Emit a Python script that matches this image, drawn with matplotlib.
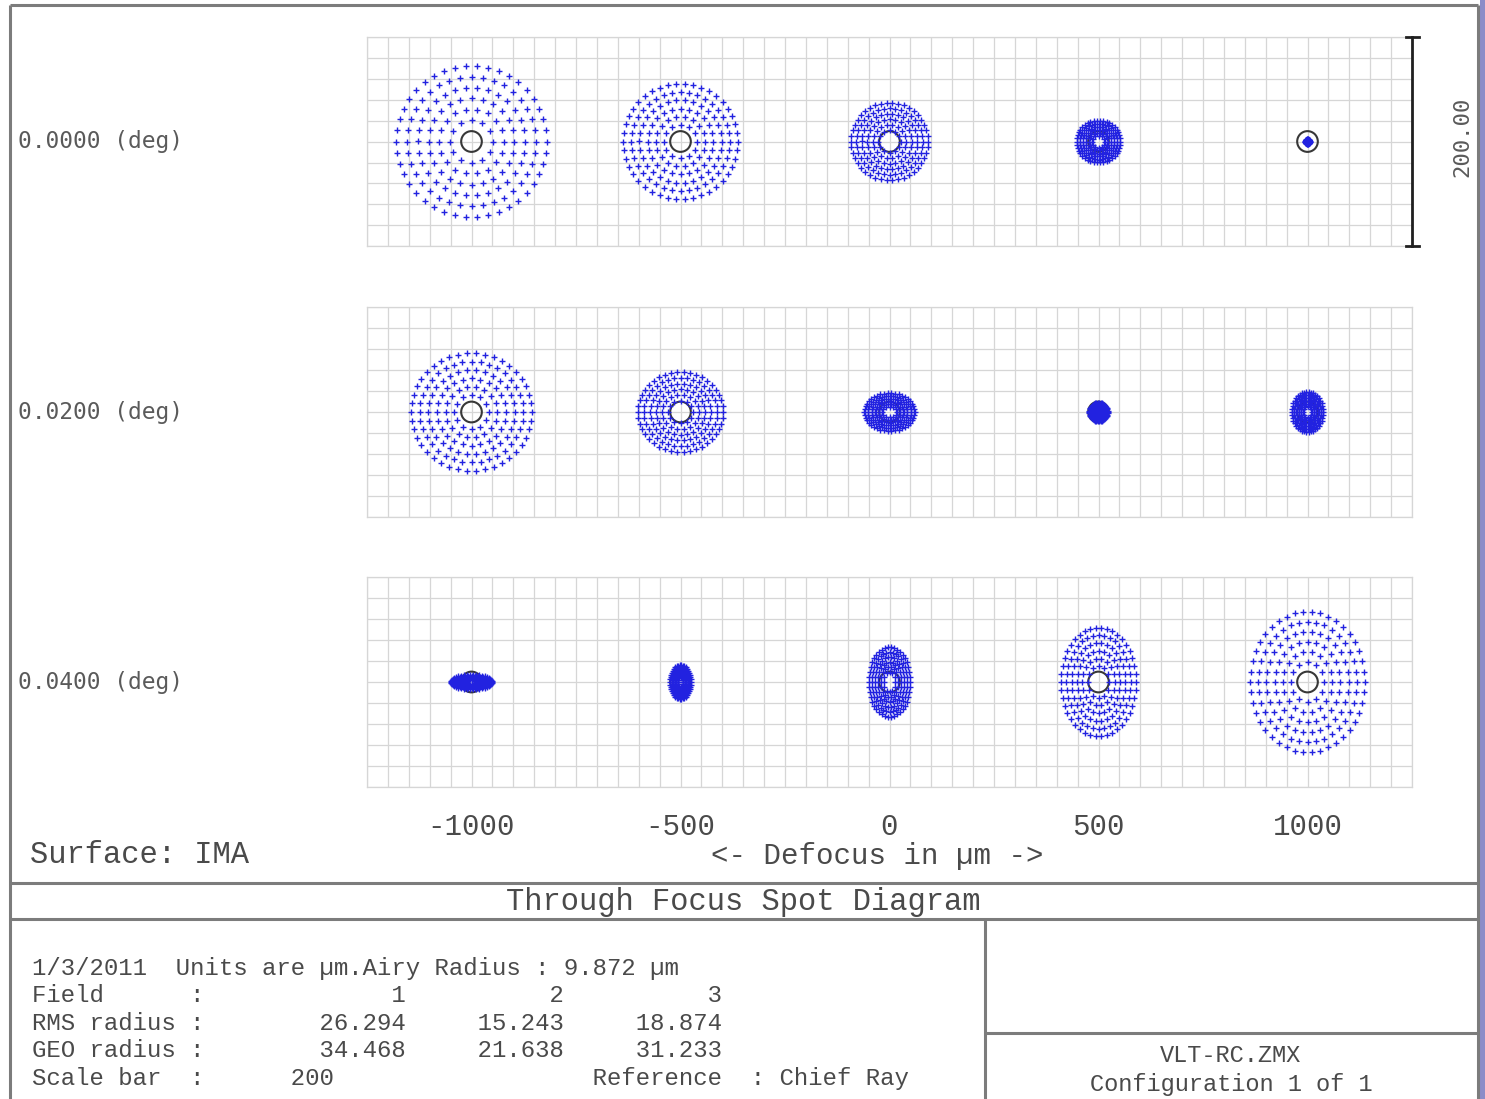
import numpy as np
import matplotlib
matplotlib.use("Agg")
import matplotlib.pyplot as plt
from matplotlib.patches import Ellipse, Rectangle
from matplotlib.ticker import MultipleLocator

W, H = 1485, 1099

# ---- data ----
FIELDS = ["0.0000 (deg)", "0.0200 (deg)", "0.0400 (deg)"]
DEFOCUS = [-1000, -500, 0, 500, 1000]
# spot half-width / half-height in um, one row per field, one column per defocus
SPOT_RX = [
    [72, 55, 37, 21, 2],
    [58, 41, 24, 9, 15],
    [20, 10, 20, 36, 55],
]
SPOT_RY = [
    [72, 55, 37, 20, 2],
    [56, 38, 18, 9, 19],
    [7, 16, 33, 52, 67],
]
AIRY_RADIUS = 9.872
SCALE_BAR = 200
FIELD_NO = ["1", "2", "3"]
RMS_RADIUS = ["26.294", "15.243", "18.874"]
GEO_RADIUS = ["34.468", "21.638", "31.233"]
DATE = "1/3/2011"
LENS_FILE = "VLT-RC.ZMX"

TXT = "#4a4a4a"
LINE = "#7c7c7c"
GRID = "#d6d6d6"
DOT = "#2222e0"
MONO = "Liberation Mono"


def hexapolar(rings=6, start=2):
    # ray pattern of the pupil (rings of 6*i rays, centre obscured)
    pts = []
    last = start + rings - 1
    for i in range(start, last + 1):
        r = i / last
        n = 6 * i
        a = 2 * np.pi * np.arange(n) / n
        pts.append(np.c_[r * np.cos(a), r * np.sin(a)])
    return np.vstack(pts)


fig = plt.figure(figsize=(W / 100, H / 100), dpi=100)
fig.patch.set_facecolor("white")

# background layer in pixel coordinates for the frame and free text
bg = fig.add_axes([0, 0, 1, 1], zorder=0)
bg.set_xlim(0, W)
bg.set_ylim(H, 0)
bg.axis("off")

pupil = hexapolar()
centres = [SCALE_BAR / 2 + SCALE_BAR * j for j in range(len(DEFOCUS))]
row_centres = [141.5, 412, 682]

axes = []
for i, field in enumerate(FIELDS):
    cy = row_centres[i]
    ax = fig.add_axes([367 / W, 1 - (cy + 105) / H, 1045 / W, 210 / H], zorder=2)
    ax.set_facecolor("none")
    ax.set_xlim(0, SCALE_BAR * len(DEFOCUS))
    ax.set_ylim(-SCALE_BAR / 2, SCALE_BAR / 2)
    ax.set_xticks(centres)
    ax.xaxis.set_minor_locator(MultipleLocator(20))
    ax.yaxis.set_major_locator(MultipleLocator(20))
    ax.grid(which="both", color=GRID, lw=0.9)
    ax.set_axisbelow(True)
    ax.tick_params(which="both", length=0)
    ax.set_yticklabels([])
    for s in ax.spines.values():
        s.set_color(GRID)
        s.set_linewidth(0.9)

    for j, cx in enumerate(centres):
        ax.add_patch(Ellipse((cx, 0), 2 * AIRY_RADIUS, 2 * AIRY_RADIUS,
                             fill=False, ec="#383838", lw=1.5, zorder=2))
        xs = cx + SPOT_RX[i][j] * pupil[:, 0]
        ys = SPOT_RY[i][j] * pupil[:, 1]
        ax.plot(xs, ys, "+", ms=4.5, mew=1, color=DOT, zorder=3)

    bg.text(18, cy, field, ha="left", va="center", fontsize=16.5,
            family="DejaVu Sans Mono", color="#5a5a5a")
    axes.append(ax)

# defocus labels on the bottom row
ax3 = axes[-1]
ax3.set_xticklabels([str(d) for d in DEFOCUS], family=MONO, fontsize=21, color=TXT)
ax3.tick_params(axis="x", pad=19)
for ax in axes[:-1]:
    ax.set_xticklabels([])
ax3.set_xlabel("<- Defocus in µm ->", family=MONO, fontsize=21, color=TXT)
ax3.xaxis.set_label_coords((877 - 367) / 1045, -0.26)

# scale bar on the first row
ax1 = axes[0]
xb = SCALE_BAR * len(DEFOCUS)
ax1.plot([xb, xb], [-SCALE_BAR / 2, SCALE_BAR / 2], color="#202020", lw=2,
         clip_on=False, zorder=4)
for yb in (-SCALE_BAR / 2, SCALE_BAR / 2):
    ax1.plot([xb - 6, xb + 7], [yb, yb], color="#202020", lw=2, clip_on=False, zorder=4)
bg.text(1462, 137, f"{SCALE_BAR:.2f}", rotation=90, ha="center", va="center",
        fontsize=16, family="DejaVu Sans Mono", color="#5a5a5a")

# frame
frame_lines = [
    ((10, 1478), (5, 5)),
    ((10, 10), (5, H)),
    ((1478, 1478), (5, H)),
    ((10, 1478), (883, 883)),
    ((10, 1478), (919, 919)),
    ((985, 985), (919, H)),
    ((985, 1478), (1033, 1033)),
]
for xs, ys in frame_lines:
    bg.plot(xs, ys, color=LINE, lw=2.2, solid_capstyle="butt")
bg.add_patch(Rectangle((1480, 0), 5, H, color="#8c8cc8", lw=0))

bg.text(30, 855, "Surface: IMA", ha="left", va="center", family=MONO,
        fontsize=22, color=TXT)
bg.text(743, 902, "Through Focus Spot Diagram", ha="center", va="center",
        family=MONO, fontsize=22, color=TXT)

info = [
    f"{DATE}  Units are µm.Airy Radius : {AIRY_RADIUS:.3f} µm",
    f"{'Field':<11}:{FIELD_NO[0]:>14}{FIELD_NO[1]:>11}{FIELD_NO[2]:>11}",
    f"{'RMS radius':<11}:{RMS_RADIUS[0]:>14}{RMS_RADIUS[1]:>11}{RMS_RADIUS[2]:>11}",
    f"{'GEO radius':<11}:{GEO_RADIUS[0]:>14}{GEO_RADIUS[1]:>11}{GEO_RADIUS[2]:>11}",
    f"{'Scale bar':<11}:      {SCALE_BAR}                  Reference  : Chief Ray",
]
for k, line in enumerate(info):
    bg.text(32, 968 + k * 27.6, line, ha="left", va="center", family=MONO,
            fontsize=17.3, color=TXT)

bg.text(1231, 1055, LENS_FILE, ha="center", va="center", family=MONO,
        fontsize=17, color=TXT)
bg.text(1231, 1085, "Configuration 1 of 1", ha="center", va="center",
        family=MONO, fontsize=17, color=TXT)

fig.savefig("out.png", dpi=100, facecolor="white")
